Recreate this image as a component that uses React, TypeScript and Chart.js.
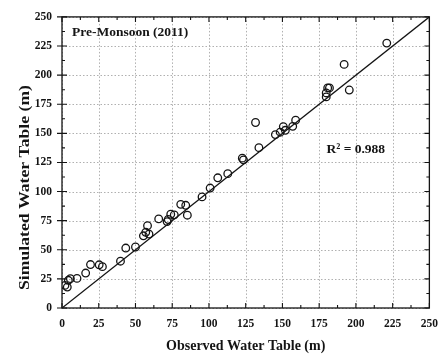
import React, { useEffect, useRef } from 'react';
import { Chart, registerables } from 'chart.js';

Chart.register(...registerables);

// Observed vs simulated water table (m), Pre-Monsoon 2011
const observed = [
  2, 3.6, 4.3, 5.7, 10.2, 16.1, 19.4, 25.3, 27.5, 39.8,
  43.4, 50, 55.4, 57, 58.2, 59.2, 65.8, 71.5, 72.3, 74,
  76.4, 80.8, 84.2, 85.3, 95.3, 100.8, 106, 112.8, 122.7, 123.5,
  131.7, 134, 145.2, 148.5, 150.6, 152, 157, 159, 179.8, 179.8,
  180.8, 182, 192, 195.5, 221,
];
const simulated = [
  19.4, 18, 23.8, 25.2, 25.4, 30, 37.3, 37.1, 35.5, 40.2,
  51.5, 52.4, 62, 65, 70.7, 63.5, 76.5, 74.2, 76, 80.5,
  80, 89, 88.2, 79.7, 95.4, 103, 111.8, 115.4, 128.7, 127.2,
  159.3, 137.7, 148.9, 151, 155.7, 152.6, 156, 161.3, 181.3, 184.7,
  189, 189, 209.2, 187.2, 227.5,
];
const lineX = [0, 250];
const lineY = [0, 250];
const tickValues = [0, 25, 50, 75, 100, 125, 150, 175, 200, 225, 250];
const minorStep = 12.5;
const panelTitle = 'Pre-Monsoon (2011)';
const r2Text = 'R² = 0.988';
const r2Anchor = [180, 133.5];
const xTitle = 'Observed Water Table (m)';
const yTitle = 'Simulated Water Table (m)';

const SERIF = '"Liberation Serif", "Times New Roman", serif';
const INK = '#141414';

const decorPlugin = {
  id: 'decor',
  beforeDatasetsDraw(chart: any) {
    const { ctx, chartArea: a, scales } = chart;
    const xs = scales.x, ys = scales.y;
    ctx.save();
    ctx.strokeStyle = '#b0b0b0';
    ctx.lineWidth = 1;
    ctx.setLineDash([1.5, 2]);
    tickValues.forEach((v) => {
      const px = Math.round(xs.getPixelForValue(v)) + 0.5;
      ctx.beginPath(); ctx.moveTo(px, a.top); ctx.lineTo(px, a.bottom); ctx.stroke();
      const py = Math.round(ys.getPixelForValue(v)) + 0.5;
      ctx.beginPath(); ctx.moveTo(a.left, py); ctx.lineTo(a.right, py); ctx.stroke();
    });
    ctx.restore();
  },
  afterDraw(chart: any) {
    const { ctx, chartArea: a, scales } = chart;
    const xs = scales.x, ys = scales.y;
    ctx.save();
    ctx.setLineDash([]);
    ctx.strokeStyle = INK;
    ctx.lineWidth = 1.3;
    ctx.strokeRect(a.left, a.top, a.right - a.left, a.bottom - a.top);
    ctx.lineWidth = 1.1;
    for (let v = 0; v <= 250 + 1e-6; v += minorStep) {
      const major = Math.abs(v / 25 - Math.round(v / 25)) < 1e-6;
      const len = major ? 5 : 3;
      const px = xs.getPixelForValue(v);
      const py = ys.getPixelForValue(v);
      ctx.beginPath();
      ctx.moveTo(px, a.bottom); ctx.lineTo(px, a.bottom - len);
      ctx.moveTo(px, a.top); ctx.lineTo(px, a.top + len);
      ctx.moveTo(a.left, py); ctx.lineTo(a.left + len, py);
      if (major) { ctx.moveTo(a.left, py); ctx.lineTo(a.left - 5, py); }
      ctx.moveTo(a.right, py); ctx.lineTo(a.right - len, py);
      ctx.stroke();
    }
    ctx.fillStyle = INK;
    ctx.font = `bold 13.5px ${SERIF}`;
    ctx.textAlign = 'left';
    ctx.textBaseline = 'alphabetic';
    ctx.fillText(panelTitle, a.left + 10, a.top + 19);
    ctx.fillText(r2Text, xs.getPixelForValue(r2Anchor[0]), ys.getPixelForValue(r2Anchor[1]));

    ctx.font = `bold 14px ${SERIF}`;
    ctx.textAlign = 'center';
    ctx.fillText(xTitle, (a.left + a.right) / 2, 350);

    ctx.font = `bold 14.5px ${SERIF}`;
    const w = ctx.measureText(yTitle).width;
    const sx = 205 / w;
    ctx.translate(28.5, 187.5);
    ctx.rotate(-Math.PI / 2);
    ctx.scale(sx, 1);
    ctx.textAlign = 'center';
    ctx.fillText(yTitle, 0, 0);
    ctx.restore();
  },
};

export default function App() {
  const ref = useRef<HTMLCanvasElement>(null);
  useEffect(() => {
    document.body.style.margin = '0';
    const canvas = ref.current!;
    const points = observed.map((x, i) => ({ x, y: simulated[i] }));
    const linePts = lineX.map((x, i) => ({ x, y: lineY[i] }));
    const tickFont = { family: SERIF, size: 11.5, weight: 'bold' as const };
    const chart = new Chart(canvas, {
      type: 'scatter',
      data: {
        datasets: [
          {
            type: 'line',
            data: linePts,
            borderColor: INK,
            borderWidth: 1.3,
            pointRadius: 0,
            fill: false,
            tension: 0,
          } as any,
          {
            data: points,
            pointRadius: 3.8,
            pointBorderWidth: 1.3,
            borderColor: INK,
            backgroundColor: 'rgba(0,0,0,0)',
            pointStyle: 'circle',
          },
        ],
      },
      options: {
        responsive: false,
        animation: false,
        layout: { padding: { top: 12, right: 17, left: 0, bottom: 0 } },
        plugins: { legend: { display: false }, tooltip: { enabled: false } },
        scales: {
          x: {
            type: 'linear',
            min: 0,
            max: 250,
            afterFit: (s: any) => { s.height = 49; },
            afterBuildTicks: (s: any) => { s.ticks = tickValues.map((v) => ({ value: v })); },
            grid: { display: false, drawTicks: false },
            border: { display: false },
            ticks: { color: INK, font: tickFont, padding: 9, maxRotation: 0, autoSkip: false },
          },
          y: {
            type: 'linear',
            min: 0,
            max: 250,
            afterFit: (s: any) => { s.width = 62; },
            afterBuildTicks: (s: any) => { s.ticks = tickValues.map((v) => ({ value: v })); },
            grid: { display: false, drawTicks: false },
            border: { display: false },
            ticks: { color: INK, font: tickFont, padding: 10, autoSkip: false },
          },
        },
      },
      plugins: [decorPlugin],
    });
    return () => chart.destroy();
  }, []);
  return (
    <div style={{ width: 447, height: 357, background: '#fff' }}>
      <canvas ref={ref} width={447} height={357} style={{ display: 'block' }} />
    </div>
  );
}
